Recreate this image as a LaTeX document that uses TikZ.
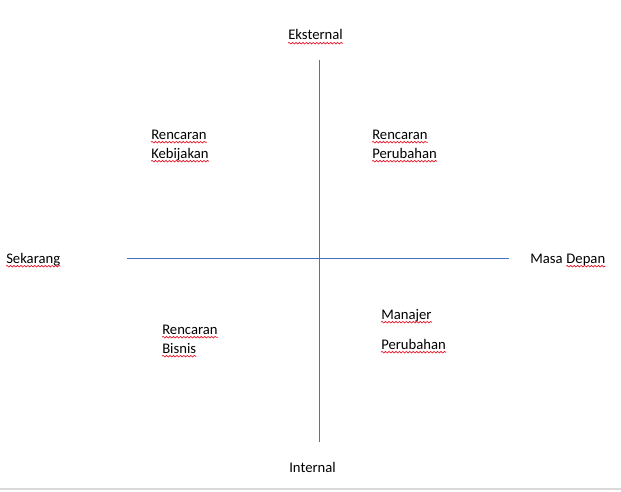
\documentclass[tikz,border=0pt]{standalone}
\usepackage{fontspec}
\setmainfont{Carlito}
\usetikzlibrary{decorations.pathmorphing}
\definecolor{axisblue}{HTML}{4472C4}
\definecolor{spellred}{HTML}{E81123}
\newcommand\squig[1]{\draw[spell] ([yshift=-2.4pt]#1.base west) -- ([yshift=-2.4pt]#1.base east);}
\begin{document}
\begin{tikzpicture}[x=0.75pt,y=-0.75pt,
  lbl/.style={inner sep=0pt, anchor=base west, font=\fontsize{11pt}{13pt}\selectfont, text=black},
  axis/.style={draw=axisblue, line width=0.6pt},
  spell/.style={draw=spellred, line width=0.5pt, decorate, decoration={snake, amplitude=0.6pt, segment length=2.6pt}}]
\useasboundingbox (0,0) rectangle (621,492);
% bottom separator
\coordinate (sl) at (0,489);
\coordinate (sr) at (621,489);
\draw[gray!30, line width=0.8pt] (sl) -- (sr);
% axes
\coordinate (vt) at (319,60);
\coordinate (vb) at (319,442);
\coordinate (hl) at (127,258);
\coordinate (hr) at (509,258);
\draw[axis] (vt) -- (vb);
\draw[axis] (hl) -- (hr);
% labels
\node[lbl] (eks) at (288,40) {Eksternal};
\node[lbl] (int) at (289,472) {Internal};
\node[lbl] (sek) at (6,263) {Sekarang};
\node[lbl] (masa) at (530,263) {Masa};
\node[lbl] (depan) at ([xshift=2.5pt]masa.base east) {Depan};
\node[lbl] (rk1) at (151,139) {Rencaran};
\node[lbl] (rk2) at (151,158) {Kebijakan};
\node[lbl] (rp1) at (372,139) {Rencaran};
\node[lbl] (rp2) at (372,158) {Perubahan};
\node[lbl] (rb1) at (162,334) {Rencaran};
\node[lbl] (rb2) at (162,353) {Bisnis};
\node[lbl] (mp1) at (381,319) {Manajer};
\node[lbl] (mp2) at (381,349) {Perubahan};
% spell-check underlines
\squig{eks}
\squig{sek}
\squig{depan}
\squig{rk1}
\squig{rk2}
\squig{rp1}
\squig{rp2}
\squig{rb1}
\squig{rb2}
\squig{mp1}
\squig{mp2}
\end{tikzpicture}
\end{document}
